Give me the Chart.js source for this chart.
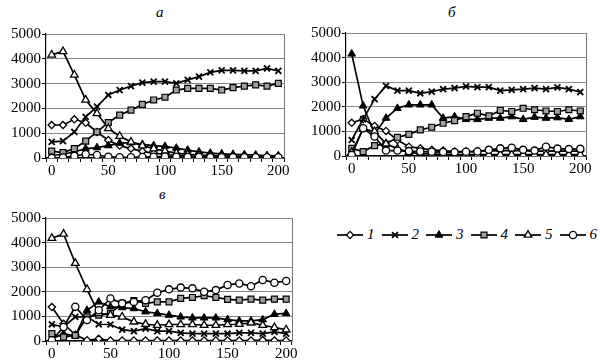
<!DOCTYPE html>
<html>
<head>
<meta charset="utf-8">
<script src="https://cdn.jsdelivr.net/npm/chart.js@4.4.0/dist/chart.umd.min.js"></script>
<style>
  body { margin: 0; background: #fff; width: 600px; height: 362px; position: relative; overflow: hidden; font-family: "Liberation Serif", serif; }
  canvas.panel { position: absolute; }
  .ttl { position: absolute; font: italic 15px "Liberation Serif", serif; color: #000; }
  #legend { position: absolute; left: 336px; top: 226px; display: flex; }
  .item { display: flex; align-items: center; margin-right: 6px; }
  .item span { font: italic 15px "Liberation Serif", serif; margin-left: 3px; }
</style>
</head>
<body>
<div class="ttl" style="left:156px;top:4px">а</div>
<div class="ttl" style="left:448px;top:4px">б</div>
<div class="ttl" style="left:159px;top:186px">в</div>
<canvas class="panel" id="cA" width="290" height="178" style="left:0;top:0"></canvas>
<canvas class="panel" id="cB" width="292" height="176" style="left:300px;top:0"></canvas>
<canvas class="panel" id="cV" width="298" height="172" style="left:0;top:190px"></canvas>
<div id="legend"></div>
<script>
(() => {
    'use strict';

    // ===== Datos =====
    const xs = [0, 10, 20, 30, 40, 50, 60, 70, 80, 90, 100, 110, 120, 130, 140, 150, 160, 170, 180, 190, 200];
    const seriesNames = ['1', '2', '3', '4', '5', '6'];

    // а
    const a1 = [1330, 1330, 1560, 1420, 1050, 720, 500, 380, 270, 200, 140, 100, 80, 60, 50, 40, 40, 30, 30, 30, 30];
    const a2 = [650, 680, 1050, 1660, 2070, 2540, 2740, 2900, 3040, 3080, 3080, 3010, 3150, 3280, 3450, 3530, 3530, 3510, 3510, 3610, 3510];
    const a3 = [100, 150, 250, 380, 420, 500, 600, 620, 550, 500, 470, 400, 320, 250, 200, 170, 150, 140, 120, 100, 90];
    const a4 = [280, 220, 380, 680, 1050, 1430, 1730, 1930, 2160, 2340, 2450, 2740, 2810, 2810, 2810, 2740, 2840, 2900, 2950, 2900, 3010];
    const a5 = [4160, 4300, 3350, 2340, 1800, 1190, 880, 650, 500, 380, 280, 200, 150, 120, 100, 90, 80, 70, 60, 50, 50];
    const a6 = [0, 20, 80, 150, 120, 50, 30, 30, 40, 50, 60, 50, 40, 40, 30, 30, 30, 30, 30, 30, 30];

    // б
    const b1 = [1350, 1500, 1220, 1020, 650, 380, 310, 250, 220, 180, 180, 200, 210, 220, 230, 220, 200, 200, 210, 200, 200];
    const b2 = [650, 1500, 2310, 2850, 2660, 2660, 2550, 2620, 2720, 2760, 2830, 2800, 2800, 2660, 2690, 2720, 2760, 2720, 2790, 2720, 2600];
    const b3 = [4150, 2040, 900, 1540, 1940, 2080, 2080, 2080, 1540, 1600, 1490, 1490, 1540, 1540, 1600, 1490, 1580, 1540, 1560, 1490, 1600];
    const b4 = [310, 180, 420, 490, 760, 880, 1060, 1170, 1330, 1440, 1600, 1740, 1630, 1850, 1810, 1940, 1880, 1830, 1810, 1880, 1830];
    const b5 = [150, 1100, 1000, 500, 300, 150, 100, 80, 70, 60, 60, 60, 60, 60, 60, 60, 60, 60, 60, 60, 60];
    const b6 = [40, 1130, 790, 220, 220, 200, 180, 170, 160, 150, 170, 180, 250, 310, 340, 250, 220, 380, 300, 280, 290];

    // в
    const v1 = [1380, 700, 250, 30, 90, 20, 20, 20, 20, 20, 20, 20, 20, 20, 20, 20, 20, 20, 40, 20, 20];
    const v2 = [680, 570, 980, 980, 680, 670, 460, 400, 500, 400, 400, 330, 300, 300, 300, 300, 330, 330, 300, 370, 300];
    const v3 = [95, 300, 200, 1250, 1590, 1390, 1360, 1320, 1190, 1120, 1050, 980, 940, 940, 940, 870, 820, 820, 870, 1090, 1120];
    const v4 = [300, 160, 230, 980, 1050, 1120, 1530, 1640, 1530, 1590, 1590, 1730, 1770, 1840, 1770, 1690, 1660, 1700, 1660, 1700, 1700];
    const v5 = [4180, 4350, 3160, 2100, 1120, 1050, 980, 780, 680, 640, 670, 670, 670, 640, 640, 670, 680, 740, 640, 550, 460];
    const v6 = [30, 570, 1390, 850, 1250, 1730, 1530, 1590, 1660, 1960, 2100, 2170, 2140, 2000, 2070, 2280, 2340, 2230, 2480, 2370, 2440];

    const yTicks = [0, 1000, 2000, 3000, 4000, 5000];

    // ===== Estilos de marcadores =====
    const markers = [
        { pointStyle: 'rectRot',  pointRadius: 3.6, pointBackgroundColor: '#fff',    pointBorderColor: '#000', pointBorderWidth: 1.3 },
        { pointStyle: 'crossRot', pointRadius: 4.2, pointBackgroundColor: '#000',    pointBorderColor: '#000', pointBorderWidth: 1.8 },
        { pointStyle: 'triangle', pointRadius: 4.4, pointBackgroundColor: '#000',    pointBorderColor: '#000', pointBorderWidth: 1 },
        { pointStyle: 'rect',     pointRadius: 4.2, pointBackgroundColor: '#a0a0a0', pointBorderColor: '#000', pointBorderWidth: 1.2 },
        { pointStyle: 'triangle', pointRadius: 4.4, pointBackgroundColor: '#fff',    pointBorderColor: '#000', pointBorderWidth: 1.3 },
        { pointStyle: 'circle',   pointRadius: 3.6, pointBackgroundColor: '#fff',    pointBorderColor: '#000', pointBorderWidth: 1.3 }
    ];

    const font = { family: 'serif', size: 15 };

    // borde derecho gris del área
    const rightEdge = {
        id: 'rightEdge',
        afterDraw(chart) {
            const { ctx, chartArea: a } = chart;
            ctx.save();
            ctx.strokeStyle = '#777';
            ctx.lineWidth = 1;
            ctx.beginPath();
            ctx.moveTo(Math.round(a.right) + 0.5, a.top);
            ctx.lineTo(Math.round(a.right) + 0.5, a.bottom);
            ctx.stroke();
            ctx.restore();
        }
    };

    function makeChart(id, data, padTop, padRight, xH) {
        const datasets = data.map((d, i) => Object.assign({
            label: seriesNames[i],
            data: d,
            borderColor: '#000',
            borderWidth: 1.7,
            tension: 0,
            fill: false
        }, markers[i]));
        // el orden de dibujo: primero las de atrás
        datasets.forEach((ds, i) => { ds.order = 6 - i; });
        return new Chart(document.getElementById(id).getContext('2d'), {
            type: 'line',
            data: { labels: xs.map(String), datasets },
            options: {
                responsive: false,
                animation: false,
                layout: { padding: { top: padTop, right: padRight, left: 0, bottom: 0 } },
                plugins: { legend: { display: false }, tooltip: { enabled: false } },
                scales: {
                    x: {
                        type: 'category',
                        offset: true,
                        grid: { offset: true, drawOnChartArea: false, drawTicks: true, tickLength: 4, color: '#000' },
                        border: { color: '#000', width: 1.2 },
                        ticks: {
                            autoSkip: false, maxRotation: 0, padding: 0, color: '#000', font,
                            callback: (v, i) => (xs[i] % 50 === 0 ? String(xs[i]) : '')
                        },
                        afterFit: (s) => { s.height = xH; }
                    },
                    y: {
                        min: 0, max: 5000,
                        afterBuildTicks: (s) => { s.ticks = yTicks.map(v => ({ value: v })); },
                        grid: { color: '#888', lineWidth: 1, tickLength: 4, tickColor: '#000' },
                        border: { color: '#000', width: 1.2 },
                        ticks: { padding: 1, color: '#000', font, callback: (v) => String(v) },
                        afterFit: (s) => { s.width = 46; }
                    }
                }
            },
            plugins: [rightEdge]
        });
    }

    // ===== Leyenda =====
    function buildLegend() {
        const host = document.getElementById('legend');
        markers.forEach((m, i) => {
            const it = document.createElement('div');
            it.className = 'item';
            const c = document.createElement('canvas');
            c.width = 28; c.height = 16;
            const ctx = c.getContext('2d');
            ctx.strokeStyle = '#000';
            ctx.lineWidth = 1.7;
            ctx.beginPath(); ctx.moveTo(1, 8); ctx.lineTo(27, 8); ctx.stroke();
            ctx.fillStyle = m.pointBackgroundColor;
            ctx.lineWidth = m.pointBorderWidth;
            Chart.helpers.drawPoint(ctx, { pointStyle: m.pointStyle, radius: m.pointRadius, rotation: 0, borderWidth: m.pointBorderWidth }, 14, 8);
            it.appendChild(c);
            const s = document.createElement('span');
            s.textContent = seriesNames[i];
            it.appendChild(s);
            host.appendChild(it);
        });
    }

    function boot() {
        makeChart('cA', [a1, a2, a3, a4, a5, a6], 34, 5, 20);
        makeChart('cB', [b1, b2, b3, b4, b5, b6], 33, 6, 20);
        makeChart('cV', [v1, v2, v3, v4, v5, v6], 28, 4, 21);
        buildLegend();
    }

    boot();
})();
</script>
</body>
</html>
